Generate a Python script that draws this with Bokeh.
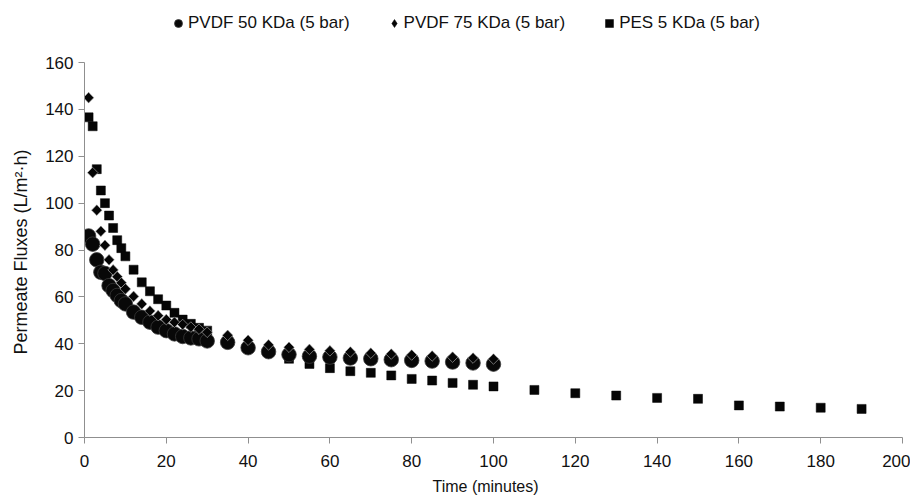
from bokeh.plotting import figure
from bokeh.models import Range1d, Legend, LegendItem, ColumnDataSource, FixedTicker, Title
from bokeh.embed import file_html
from bokeh.resources import INLINE
import math

# ---- data ----
t_pvdf = [1, 2, 3, 4, 5, 6, 7, 8, 9, 10, 12, 14, 16, 18, 20, 22, 24, 26, 28, 30,
          35, 40, 45, 50, 55, 60, 65, 70, 75, 80, 85, 90, 95, 100]
pvdf50 = [86.0, 82.5, 75.8, 70.5, 70.0, 64.8, 62.7, 60.6, 58.4, 57.0,
          53.5, 51.3, 49.2, 47.1, 45.6, 44.2, 43.1, 42.5, 42.1, 41.2,
          40.6, 38.3, 36.6, 35.4, 34.7, 34.3, 33.9, 33.6, 33.2, 32.9, 32.6, 32.2, 31.8, 31.3]
pvdf75 = [145.0, 113.0, 97.0, 88.0, 82.0, 75.8, 71.5, 68.6, 66.0, 63.4,
          60.2, 57.0, 54.0, 52.0, 50.3, 49.2, 48.2, 47.1, 46.2, 44.9,
          43.6, 41.5, 39.5, 38.5, 37.6, 37.0, 36.5, 36.0, 35.6, 35.2, 34.8, 34.3, 33.9, 33.5]
t_pes = [1, 2, 3, 4, 5, 6, 7, 8, 9, 10, 12, 14, 16, 18, 20, 22, 24, 26, 28, 30,
         35, 40, 45, 50, 55, 60, 65, 70, 75, 80, 85, 90, 95, 100,
         110, 120, 130, 140, 150, 160, 170, 180, 190]
pes5 = [136.6, 132.8, 114.5, 105.4, 100.0, 94.7, 89.4, 84.2, 80.8, 77.3,
        71.6, 66.2, 62.4, 59.0, 56.3, 53.2, 50.3, 48.5, 46.8, 45.6,
        41.5, 38.5, 36.3, 33.6, 31.4, 29.6, 28.3, 27.6, 26.5, 25.0, 24.3, 23.3, 22.5, 21.8,
        20.3, 18.9, 17.9, 16.9, 16.5, 13.7, 13.2, 12.7, 12.2]
labels = ["PVDF 50 KDa (5 bar)", "PVDF 75 KDa (5 bar)", "PES 5 KDa (5 bar)"]
x_label = "Time (minutes)"
y_label = "Permeate Fluxes (L/m\u00b2\u00b7h)"
x_ticks = list(range(0, 201, 20))
y_ticks = list(range(0, 161, 20))
y_axis_max = 160

FONT = "Liberation Sans"

# frame spans from the top of the figure; the y axis line is bounded to 0..160
# 375 px per 160 units, frame height 437 px
y_top = y_axis_max * 437 / 375

p = figure(width=910, height=500, output_backend="svg", toolbar_location=None,
           x_range=Range1d(0, 200), y_range=Range1d(0, y_top),
           min_border_left=84, min_border_right=8, min_border_top=0, min_border_bottom=63)
p.xgrid.visible = False
p.ygrid.visible = False
p.outline_line_color = None
p.background_fill_color = "white"
p.border_fill_color = "white"

for ax in (p.xaxis[0], p.yaxis[0]):
    ax.axis_line_color = "#8f8f8f"
    ax.major_tick_line_color = "#8f8f8f"
    ax.minor_tick_line_color = None
    ax.major_tick_out = 6
    ax.major_tick_in = 0
    ax.major_label_text_font = FONT
    ax.major_label_text_font_size = "17px"
    ax.major_label_text_color = "#111111"

p.yaxis.bounds = (0, y_axis_max)
p.xaxis.ticker = FixedTicker(ticks=x_ticks)
p.yaxis.ticker = FixedTicker(ticks=y_ticks)
p.xaxis.major_label_standoff = 11
p.yaxis.major_label_standoff = 5

# axis titles as panel titles so they can be positioned like the reference
ty = Title(text=y_label, align="left", offset=83, standoff=20, vertical_align="top",
           text_font=FONT, text_font_size="18px", text_font_style="normal",
           text_color="#111111")
p.add_layout(ty, "left")
tx = Title(text=x_label, align="left", offset=348, standoff=12,
           text_font=FONT, text_font_size="16px", text_font_style="normal",
           text_color="#111111")
p.add_layout(tx, "below")

src50 = ColumnDataSource(dict(x=t_pvdf, y=pvdf50))
src75 = ColumnDataSource(dict(x=t_pvdf, y=pvdf75))
srcpes = ColumnDataSource(dict(x=t_pes, y=pes5))

r_pes = p.scatter("x", "y", source=srcpes, marker="square", size=9,
                  fill_color="#050505", line_color="#050505", line_width=0.5)
r50 = p.scatter("x", "y", source=src50, marker="circle", size=14.5,
                fill_color="#080808", line_color="#3a3a3a", line_width=0.8)
# narrow diamond used for the legend; fully covered by the rotated squares below
r75_leg = p.scatter("x", "y", source=src75, marker="diamond", size=10,
                    fill_color="#050505", line_color="#050505", line_width=0.5)
r75 = p.scatter("x", "y", source=src75, marker="square", size=7.5, angle=math.pi / 4,
                fill_color="#050505", line_color="#bbbbbb", line_width=0.6)

legend = Legend(items=[LegendItem(label=labels[0], renderers=[r50]),
                       LegendItem(label=labels[1], renderers=[r75_leg]),
                       LegendItem(label=labels[2], renderers=[r_pes])],
                orientation="horizontal", location=(84, 404),
                label_text_font=FONT, label_text_font_size="17px", label_text_color="#111111",
                glyph_width=20, glyph_height=20, label_standoff=0, spacing=34,
                padding=0, margin=0, border_line_color=None, background_fill_alpha=0)
p.add_layout(legend, "center")

open("out.html", "w").write(file_html(p, INLINE))
